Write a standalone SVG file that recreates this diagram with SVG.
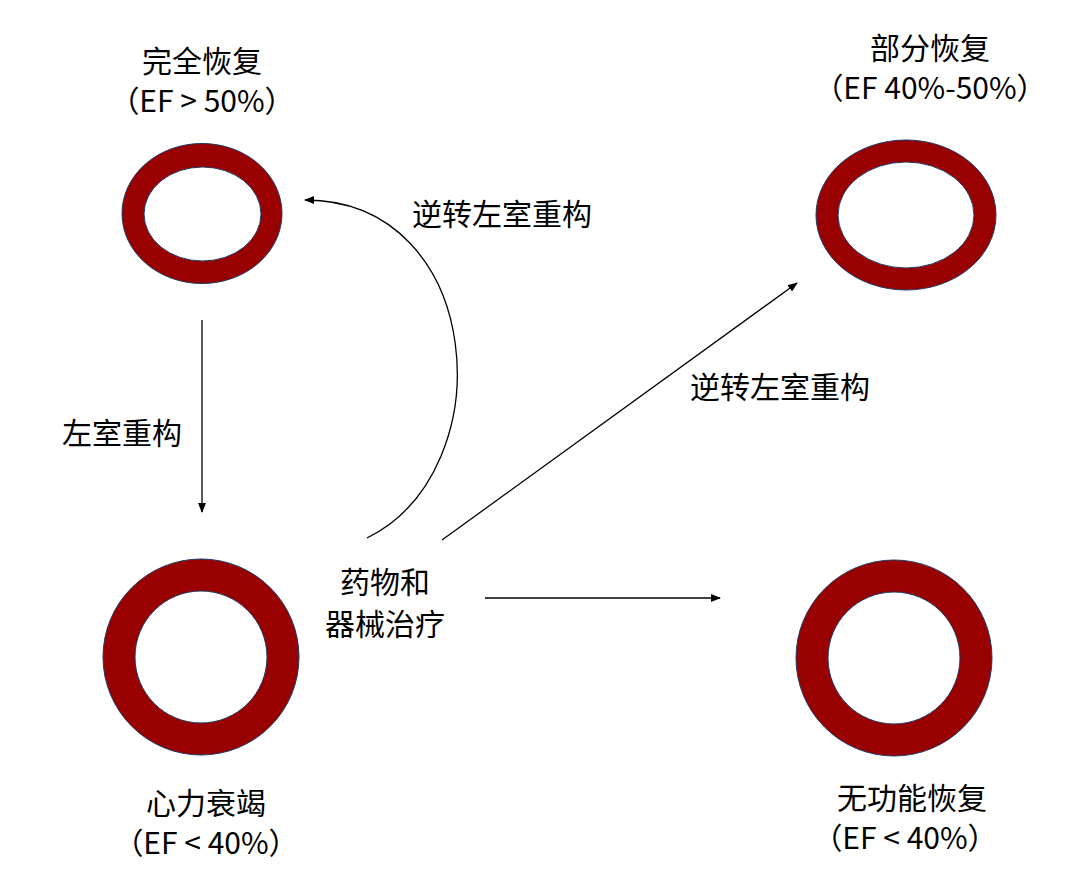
<svg xmlns="http://www.w3.org/2000/svg" width="1080" height="882" viewBox="0 0 1080 882">
<style>
.ring{fill:#990000;stroke:#1f3864;stroke-width:1;fill-rule:evenodd}
.t{font-family:"Noto Sans CJK SC","Liberation Sans",sans-serif;font-size:30px;fill:#000;text-anchor:middle}
.c{fill:none;stroke:#000;stroke-width:1.3}
</style>
<defs><marker id="a" markerWidth="10" markerHeight="8" refX="9" refY="4" orient="auto" markerUnits="userSpaceOnUse"><path d="M0,0L10,4L0,8z" fill="#000"/></marker></defs>
<rect width="1080" height="882" fill="#fff"/>
<g id="n1"><path class="ring" d="M122,213.5a80,70 0 1,0 160,0a80,70 0 1,0 -160,0zM144,214a58.5,47 0 1,0 117,0a58.5,47 0 1,0 -117,0z"/>
<text class="t" x="202" y="72">完全恢复</text><text class="t" x="202" y="112">（EF &gt; 50%）</text></g>
<g id="n2"><path class="ring" d="M816,215a90,75 0 1,0 180,0a90,75 0 1,0 -180,0zM838,215a68,53 0 1,0 136,0a68,53 0 1,0 -136,0z"/>
<text class="t" x="930" y="59">部分恢复</text><text class="t" x="930" y="99">（EF 40%-50%）</text></g>
<g id="n3"><path class="ring" d="M103,657a98,98 0 1,0 196,0a98,98 0 1,0 -196,0zM135,657a66,66 0 1,0 132,0a66,66 0 1,0 -132,0z"/>
<text class="t" x="206" y="814">心力衰竭</text><text class="t" x="206" y="854">（EF &lt; 40%）</text></g>
<g id="n4"><path class="ring" d="M796,658a98,98 0 1,0 196,0a98,98 0 1,0 -196,0zM828,658a66,66 0 1,0 132,0a66,66 0 1,0 -132,0z"/>
<text class="t" x="912" y="809">无功能恢复</text><text class="t" x="905" y="849">（EF &lt; 40%）</text></g>
<g id="n5"><text class="t" x="385" y="593">药物和</text><text class="t" x="385" y="635">器械治疗</text></g>
<g id="connectors">
<path class="c" marker-end="url(#a)" d="M202,320V512"/>
<path class="c" marker-end="url(#a)" d="M367,538C505,470 485,200 305,200"/>
<path class="c" marker-end="url(#a)" d="M442,540L797,283"/>
<path class="c" marker-end="url(#a)" d="M485,598H720"/>
<text class="t" x="502" y="225">逆转左室重构</text>
<text class="t" x="780" y="398">逆转左室重构</text>
<text class="t" x="122" y="444">左室重构</text>
</g>
</svg>
